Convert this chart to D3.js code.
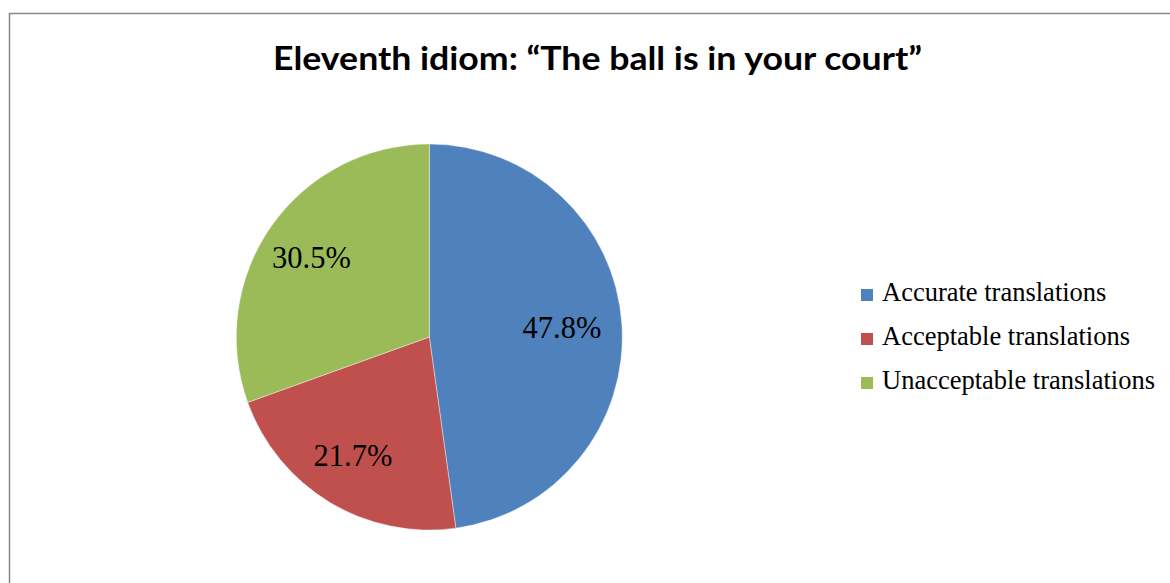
<!DOCTYPE html>
<html>
<head>
<meta charset="utf-8">
<script src="https://cdn.jsdelivr.net/npm/d3@7"></script>
<style>
  html, body { margin: 0; padding: 0; background: #ffffff; }
  svg { display: block; }
</style>
</head>
<body>
<svg id="chart" width="1170" height="583"></svg>
<script>
// Share of translations of the idiom, by quality
const categories = ["Accurate translations", "Acceptable translations", "Unacceptable translations"];
const shares = [47.8, 21.7, 30.5];
const sliceColors = ["#4F81BD", "#C0504D", "#9BBB59"];
const chartTitle = "Eleventh idiom: \u201CThe ball is in your court\u201D";

const svg = d3.select("#chart");

// Chart frame (only its top and left edges fall inside the page)
svg.append("rect")
  .attr("x", 9.5).attr("y", 13.5)
  .attr("width", 1300).attr("height", 700)
  .attr("fill", "#ffffff")
  .attr("stroke", "#868686")
  .attr("stroke-width", 1.5);

// Title
const title = svg.append("text")
  .attr("x", 597.5).attr("y", 69.5)
  .attr("text-anchor", "middle")
  .attr("font-family", "Lato, 'Open Sans', sans-serif")
  .attr("font-weight", 700)
  .attr("font-size", 33)
  .attr("fill", "#000000")
  .text(chartTitle);
title.attr("textLength", 649).attr("lengthAdjust", "spacingAndGlyphs");

// Pie
const cx = 429.3, cy = 337, radius = 193;
const color = d3.scaleOrdinal().domain(categories).range(sliceColors);

const pie = d3.pie()
  .sort(null)
  .value(d => d.value)
  .startAngle(0)
  .endAngle(2 * Math.PI);

const data = categories.map((c, i) => ({ name: c, value: shares[i] }));
const arcs = pie(data);

const arc = d3.arc().innerRadius(0).outerRadius(radius);
const labelArc = d3.arc().innerRadius(138).outerRadius(138);

const g = svg.append("g").attr("transform", `translate(${cx},${cy})`);

g.selectAll("path.slice")
  .data(arcs)
  .join("path")
  .attr("class", "slice")
  .attr("d", arc)
  .attr("fill", d => color(d.data.name))
  .attr("stroke", "#ffffff")
  .attr("stroke-width", 0.4);

g.selectAll("text.pct")
  .data(arcs)
  .join("text")
  .attr("class", "pct")
  .attr("transform", d => {
    const [x, y] = labelArc.centroid(d);
    return `translate(${x - 5},${y})`;
  })
  .attr("text-anchor", "middle")
  .attr("dy", "0.35em")
  .attr("font-family", "'Liberation Serif', 'Times New Roman', serif")
  .attr("font-size", 30.5)
  .attr("fill", "#000000")
  .text(d => d3.format(".1f")(d.data.value) + "%");

// Legend
const legendY = d3.scalePoint().domain(categories).range([295, 383]);

const legend = svg.append("g");
const items = legend.selectAll("g.item")
  .data(categories)
  .join("g")
  .attr("class", "item")
  .attr("transform", d => `translate(861,${legendY(d)})`);

items.append("rect")
  .attr("x", 0).attr("y", -6)
  .attr("width", 12).attr("height", 12)
  .attr("fill", d => color(d));

items.append("text")
  .attr("x", 21).attr("y", 6)
  .attr("font-family", "'Liberation Serif', 'Times New Roman', serif")
  .attr("font-size", 26.5)
  .attr("fill", "#000000")
  .text(d => d);
</script>
</body>
</html>
